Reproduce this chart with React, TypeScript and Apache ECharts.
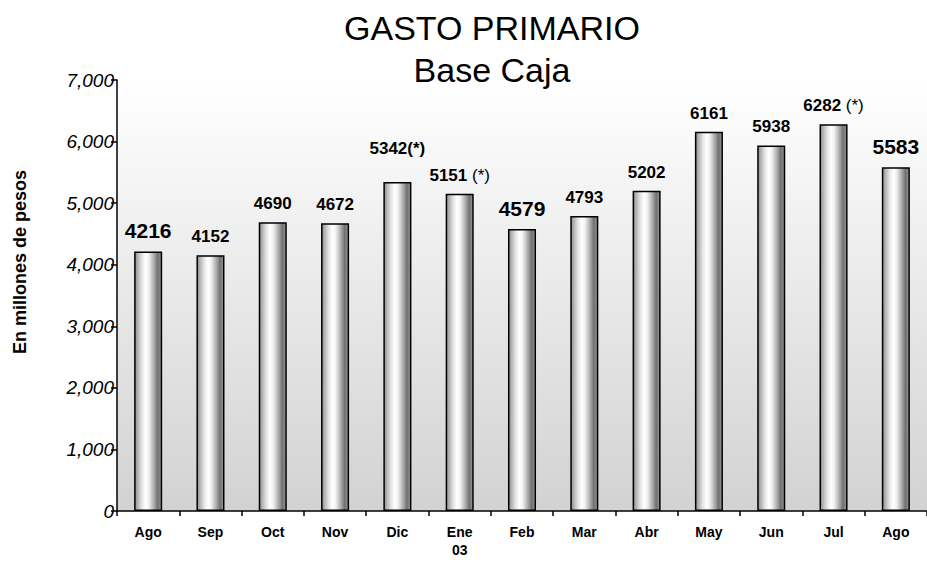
import React, { useEffect, useRef } from "react";
import * as echarts from "echarts";

const categories = ["Ago", "Sep", "Oct", "Nov", "Dic", "Ene\n03", "Feb", "Mar", "Abr", "May", "Jun", "Jul", "Ago"];
const values = [4216, 4152, 4690, 4672, 5342, 5151, 4579, 4793, 5202, 6161, 5938, 6282, 5583];
const labelNotes = ["", "", "", "", "(*)", " (*)", "", "", "", "", "", " (*)", ""];
const yTicks = [0, 1000, 2000, 3000, 4000, 5000, 6000, 7000];
const titleLines = ["GASTO PRIMARIO", "Base Caja"];
const yAxisName = "En millones de pesos";

const FONT = "Liberation Sans, Arial, Helvetica, sans-serif";
const bigIdx = [0, 6, 12];
const boldNoteIdx = [4];
const farIdx = [4];

export default function App() {
  const ref = useRef<HTMLDivElement>(null);
  useEffect(() => {
    if (!ref.current) return;
    const chart = echarts.init(ref.current, null, { renderer: "svg" });
    const barGradient = new echarts.graphic.LinearGradient(0, 0, 1, 0, [
      { offset: 0, color: "#8e8e8e" },
      { offset: 0.12, color: "#b8b8b8" },
      { offset: 0.26, color: "#e4e4e4" },
      { offset: 0.4, color: "#ffffff" },
      { offset: 0.52, color: "#f2f2f2" },
      { offset: 0.64, color: "#c8c8c8" },
      { offset: 0.76, color: "#9c9c9c" },
      { offset: 0.86, color: "#707070" },
      { offset: 0.95, color: "#8a8a8a" },
      { offset: 1, color: "#a4a4a4" },
    ]);
    const data = values.map((v, i) => {
      const big = bigIdx.includes(i);
      const note = labelNotes[i];
      return {
        value: v,
        label: {
          show: true,
          position: "top",
          distance: farIdx.includes(i) ? 25 : 10,
          formatter: () =>
            (big ? `{b|${v}}` : `{n|${v}}`) +
            (note ? (boldNoteIdx.includes(i) ? `{n|${note}}` : `{r|${note}}`) : ""),
          rich: {
            b: { fontSize: 21, fontWeight: "bold", color: "#000", fontFamily: FONT },
            n: { fontSize: 17, fontWeight: "bold", color: "#000", fontFamily: FONT },
            r: { fontSize: 17, fontWeight: "normal", color: "#000", fontFamily: FONT },
          },
        },
      };
    });
    chart.setOption({
      animation: false,
      backgroundColor: "#ffffff",
      grid: {
        left: 117,
        right: 0,
        top: 80,
        bottom: 51,
        show: true,
        borderWidth: 0,
        backgroundColor: new echarts.graphic.LinearGradient(0, 0, 0, 1, [
          { offset: 0, color: "#ffffff" },
          { offset: 1, color: "#d2d2d2" },
        ]),
      },
      graphic: [
        {
          type: "text",
          x: 492,
          y: 7,
          style: {
            text: titleLines.join("\n"),
            font: `normal 34px ${FONT}`,
            fill: "#000",
            textAlign: "center",
            textVerticalAlign: "top",
            lineHeight: 42,
          },
        },
        {
          type: "text",
          x: 20,
          y: 262,
          rotation: Math.PI / 2,
          style: {
            text: yAxisName,
            font: `bold 18px ${FONT}`,
            fill: "#000",
            textAlign: "center",
            textVerticalAlign: "middle",
          },
        },
      ],
      xAxis: {
        type: "category",
        data: categories,
        axisLine: { lineStyle: { color: "#000", width: 1.5 } },
        axisTick: { show: true, length: 5, lineStyle: { color: "#000", width: 1.5 } },
        axisLabel: {
          fontSize: 14,
          fontWeight: "bold",
          color: "#000",
          fontFamily: FONT,
          margin: 12,
          lineHeight: 18,
          interval: 0,
        },
        splitLine: { show: false },
      },
      yAxis: {
        type: "value",
        min: yTicks[0],
        max: yTicks[yTicks.length - 1],
        interval: 1000,
        axisLine: { show: true, lineStyle: { color: "#000", width: 1.5 } },
        axisTick: { show: true, length: 6, lineStyle: { color: "#000", width: 1.5 } },
        axisLabel: {
          fontSize: 19,
          fontStyle: "italic",
          color: "#000",
          fontFamily: FONT,
          margin: 3,
          formatter: (v: number) => v.toLocaleString("en-US"),
        },
        splitLine: { show: false },
      },
      series: [
        {
          type: "bar",
          data,
          barWidth: "45%",
          itemStyle: { color: barGradient, borderColor: "#000", borderWidth: 1.5 },
        },
      ],
    });
    return () => chart.dispose();
  }, []);
  return <div ref={ref} style={{ width: 927, height: 562, position: "absolute", left: 0, top: 0 }} />;
}
